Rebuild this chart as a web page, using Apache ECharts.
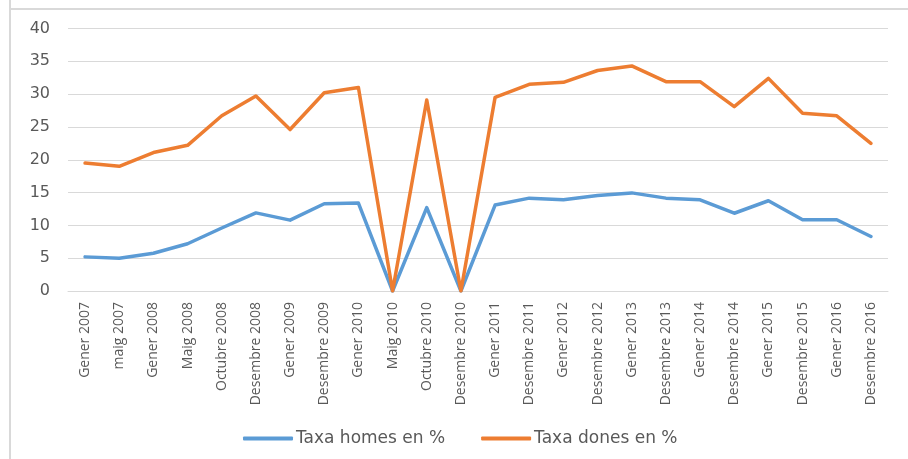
<!DOCTYPE html>
<html>
<head>
<meta charset="utf-8">
<script src="https://cdn.jsdelivr.net/npm/echarts@6/dist/echarts.min.js"></script>
<style>
html,body{margin:0;padding:0;background:#fff;}
#chart{width:908px;height:459px;}
</style>
</head>
<body>
<div id="chart"></div>
<script>
const categories = ["Gener 2007","maig 2007","Gener 2008","Maig 2008","Octubre 2008","Desembre 2008","Gener 2009","Desembre 2009","Gener 2010","Maig 2010","Octubre 2010","Desembre 2010","Gener 2011","Desembre 2011","Gener 2012","Desembre 2012","Gener 2013","Desembre 2013","Gener 2014","Desembre 2014","Gener 2015","Desembre 2015","Gener 2016","Desembre 2016"];
const homes = [5.2,5.0,5.75,7.2,9.6,11.9,10.8,13.3,13.4,0,12.7,0,13.1,14.15,13.9,14.55,14.95,14.15,13.9,11.85,13.75,10.85,10.85,8.3];
const dones = [19.5,19.0,21.1,22.2,26.7,29.7,24.6,30.2,31.0,0,29.1,0,29.5,31.5,31.8,33.6,34.3,31.9,31.9,28.1,32.4,27.1,26.7,22.5];
const yTicks = {min:0, max:40, interval:5};
const seriesNames = ["Taxa homes en %","Taxa dones en %"];

const chart = echarts.init(document.getElementById('chart'), null, {renderer:'canvas'});
const font = 'Open Sans, Liberation Sans, sans-serif';
const wide = 'DejaVu Sans, sans-serif';
chart.setOption({
  animation:false,
  backgroundColor:'#fff',
  graphic:[
    {type:'line', shape:{x1:10,y1:0,x2:10,y2:459}, style:{stroke:'#d9d9d9',lineWidth:2}},
    {type:'line', shape:{x1:10,y1:9,x2:908,y2:9}, style:{stroke:'#d9d9d9',lineWidth:2}}
  ],
  grid:{left:68,right:20,top:28.5,bottom:168,containLabel:false},
  legend:{
    top:425, left:238,
    itemWidth:50, itemHeight:4, itemGap:36,
    icon:'roundRect',
    textStyle:{color:'#595959',fontSize:17,fontFamily:wide,padding:[0,0,0,-2]},
    data:seriesNames
  },
  xAxis:{
    type:'category', data:categories, boundaryGap:true,
    axisLine:{show:true,lineStyle:{color:'#d9d9d9'}},
    axisTick:{show:false},
    axisLabel:{rotate:90,interval:0,color:'#595959',fontSize:14,fontFamily:font,margin:11}
  },
  yAxis:{
    type:'value', min:yTicks.min, max:yTicks.max, interval:yTicks.interval,
    axisLine:{show:false}, axisTick:{show:false},
    splitLine:{lineStyle:{color:'#d9d9d9',width:1}},
    axisLabel:{color:'#595959',fontSize:16,fontFamily:wide,margin:18}
  },
  series:[
    {name:seriesNames[0],type:'line',data:homes,symbol:'none',lineStyle:{color:'#5B9BD5',width:3.5,cap:'round',join:'round'},itemStyle:{color:'#5B9BD5'}},
    {name:seriesNames[1],type:'line',data:dones,symbol:'none',lineStyle:{color:'#ED7D31',width:3.5,cap:'round',join:'round'},itemStyle:{color:'#ED7D31'}}
  ]
});
</script>
</body>
</html>
